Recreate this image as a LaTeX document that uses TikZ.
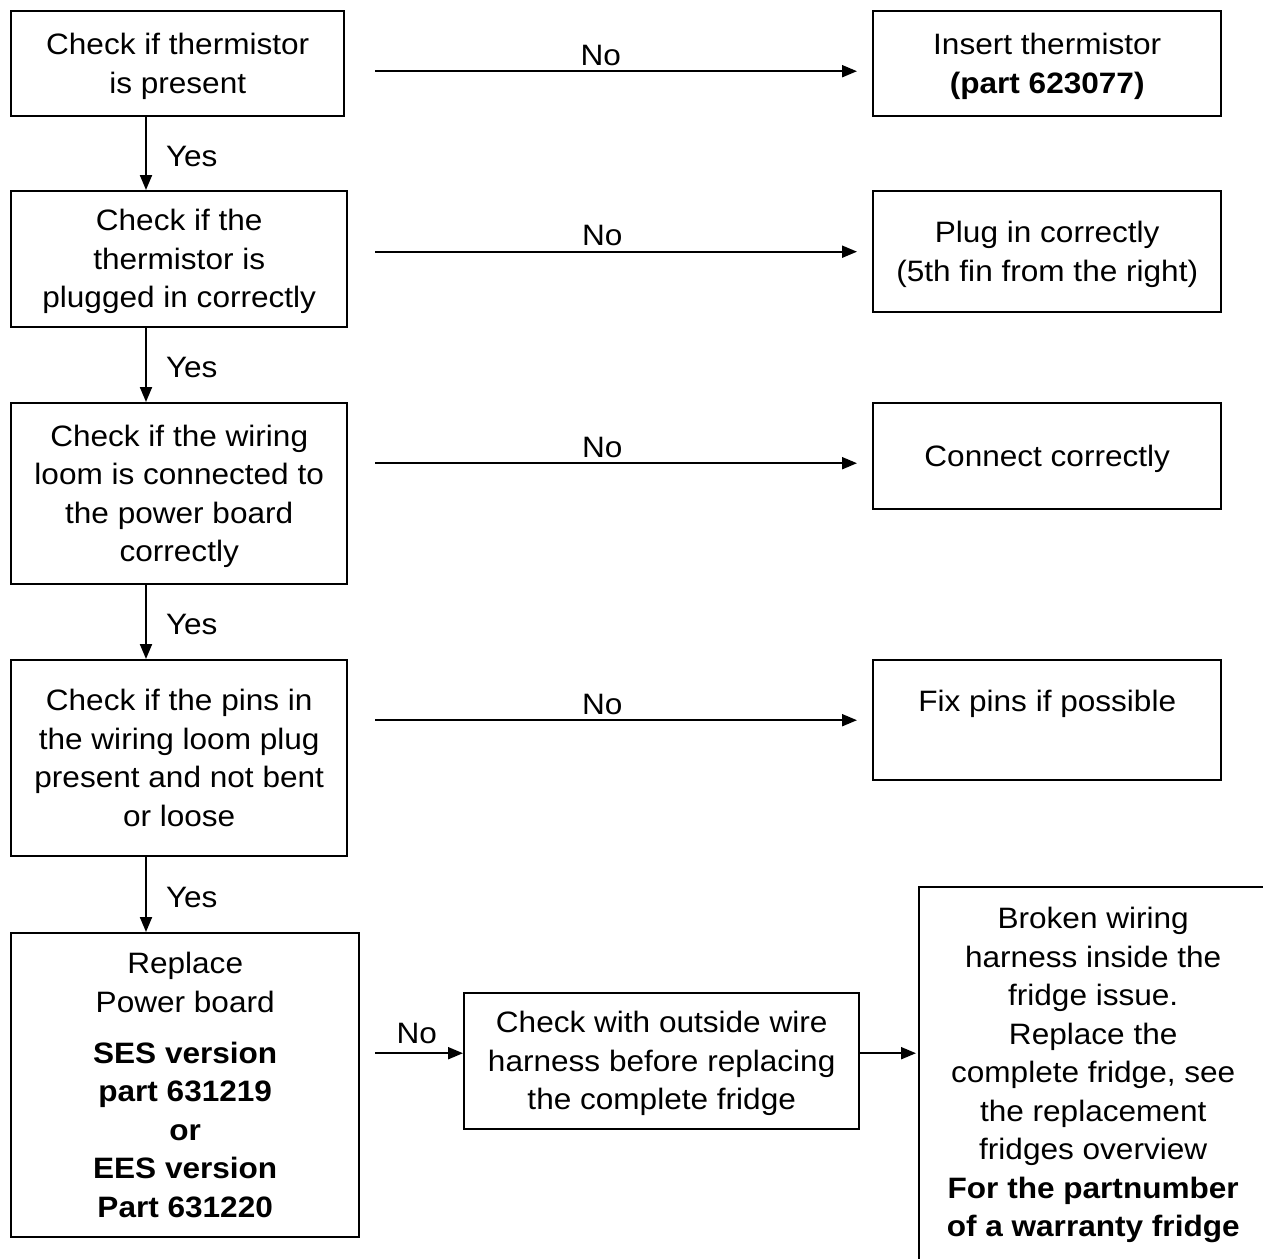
\documentclass[tikz,border=0pt]{standalone}
\usepackage{fontspec}
\setmainfont{Liberation Sans}[FakeStretch=1.07]
\usetikzlibrary{arrows.meta}
\newcommand{\lnstrut}{\rule[-3.1pt]{0pt}{16.45pt}}
\newcommand{\bx}[1]{\lnstrut#1\lnstrut}

\begin{document}
\begin{tikzpicture}[x=0.5pt, y=-0.5pt, line width=1pt, every node/.style={font=\fontsize{14.75}{19.25}\selectfont}, >={Triangle[length=7.5pt,width=6pt]}]
		\tikzstyle{box} = [rectangle, draw, line width=1.2pt, align=center, anchor=north west]
		\tikzstyle{check} = [box, minimum width=168pt]
		\tikzstyle{action} = [box, minimum width=174pt]
		\tikzstyle{nolbl} = [above=2.25pt, inner sep=0pt, pos=0.485]
		\tikzstyle{yeslbl} = [right=9.5pt, inner sep=0pt, yshift=-1.25pt]
		
		\useasboundingbox (0,0) rectangle (1263,1258);
		\clip (0,0) rectangle (1263,1258);
		\coordinate (spine) at (146,0);
		
		% left column
		\node[check, minimum width=166.5pt, minimum height=52.5pt] (present) at (10,10) {\bx{Check if thermistor\\is present}};
		\node[check, minimum height=68pt] (plugged) at (10,190) {\bx{Check if the\\thermistor is\\plugged in correctly}};
		\node[check, minimum height=90.5pt] (loom) at (10,402) {\bx{Check if the wiring\\loom is connected to\\the power board\\correctly}};
		\node[check, minimum height=98pt] (pins) at (10,659) {\bx{Check if the pins in\\the wiring loom plug\\present and not bent\\or loose}};
		\node[action, minimum height=152pt] (board) at (10,932) {\bx{Replace\\Power board\\[6.25pt]\textbf{SES version}\\\textbf{part 631219}\\\textbf{or}\\\textbf{EES version}\\\textbf{Part 631220}}};
		
		% right column
		\node[action, minimum height=52.5pt] (insert) at (872,10) {\bx{Insert thermistor\\\textbf{(part 623077)}}};
		\node[action, minimum height=60.5pt] (plugin) at (872,190) {\bx{Plug in correctly\\(5th fin from the right)}};
		\node[action, minimum height=53pt] (connect) at (872,402) {\bx{Connect correctly}};
		\node[action, minimum height=60pt] (fixpins) at (872,659) {\bx{Fix pins if possible\\~}};
		\node[box, minimum width=197.5pt, minimum height=68pt] (outside) at (463,992) {\bx{Check with outside wire\\harness before replacing\\the complete fridge}};
		\node[action, minimum width=174pt, inner ysep=7.5pt] (fridge) at (918,886) {\bx{Broken wiring\\harness inside the\\fridge issue.\\Replace the\\complete fridge, see\\the replacement\\fridges overview\\\textbf{For the partnumber}\\\textbf{of a warranty fridge}\\[20pt]~}};
		
		% yes
		\draw[->] (present.south -| spine) -- node[yeslbl] {Yes} (plugged.north -| spine);
		\draw[->] (plugged.south -| spine) -- node[yeslbl] {Yes} (loom.north -| spine);
		\draw[->] (loom.south -| spine) -- node[yeslbl] {Yes} (pins.north -| spine);
		\draw[->] (pins.south -| spine) -- node[yeslbl] {Yes} (board.north -| spine);
		
		% no
		\draw[->, shorten <=15pt, shorten >=7.5pt] ([yshift=-3.75pt]present.east) -- node[nolbl] {No} ([yshift=-3.75pt]present.east -| insert.west);
		\draw[->, shorten <=13.5pt, shorten >=7.5pt] (plugged.east |- plugin.west) -- node[nolbl] {No} (plugin.west);
		\draw[->, shorten <=13.5pt, shorten >=7.5pt] ([yshift=-3.5pt]loom.east |- connect.west) -- node[nolbl] {No} ([yshift=-3.5pt]connect.west);
		\draw[->, shorten <=13.5pt, shorten >=7.5pt] (pins.east |- fixpins.west) -- node[nolbl] {No} (fixpins.west);
		\draw[->, shorten <=7.5pt] ([yshift=4pt]board.east |- outside.west) -- node[nolbl, above=1.75pt, pos=0.55] {No} ([yshift=4pt]outside.west);
		\draw[->, shorten >=1pt] ([yshift=4pt]outside.east) -- ([yshift=4pt]outside.east -| fridge.west);
	\end{tikzpicture}
\end{document}
